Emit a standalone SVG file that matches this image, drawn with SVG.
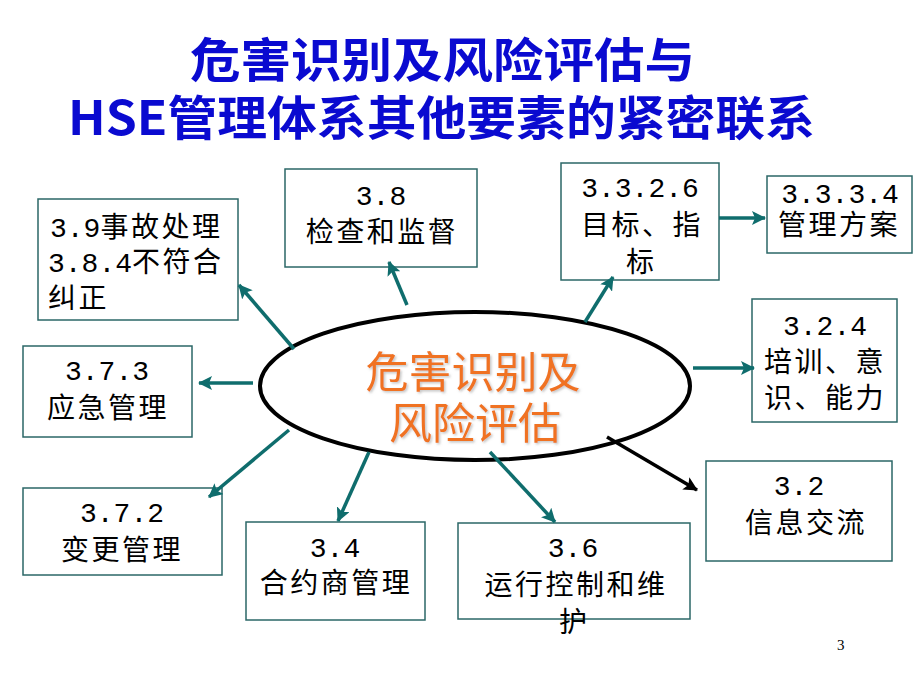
<svg xmlns="http://www.w3.org/2000/svg" width="920" height="690" viewBox="0 0 920 690">
<defs>
<style>
.title{font-family:"Noto Sans CJK SC","Liberation Sans",sans-serif;font-weight:bold;font-size:47px;fill:#0A0AD0;}
.box{fill:#fff;stroke:#2B6767;stroke-width:1.5;}
.t{font-family:"Liberation Mono","Noto Sans CJK SC",monospace;font-size:28px;fill:#000;}
.m{text-anchor:middle;}
.c{letter-spacing:2.5px;}
.ar{stroke:#0F6D6D;stroke-width:3.5;fill:none;marker-end:url(#ah);}
.ark{stroke:#000;stroke-width:3.5;fill:none;marker-end:url(#ahk);}
.ctr{font-family:"Noto Sans CJK SC","Liberation Sans",sans-serif;font-size:43px;fill:#F07222;text-anchor:middle;filter:url(#sh);}
</style>
<marker id="ah" markerUnits="userSpaceOnUse" markerWidth="16" markerHeight="14" refX="13" refY="7" orient="auto">
<path d="M0,0 L14,7 L0,14 L3,7 Z" fill="#0F6D6D"/>
</marker>
<marker id="ahk" markerUnits="userSpaceOnUse" markerWidth="16" markerHeight="14" refX="13" refY="7" orient="auto">
<path d="M0,0 L14,7 L0,14 L3,7 Z" fill="#000"/>
</marker>
<filter id="sh" x="-10%" y="-10%" width="120%" height="130%">
<feDropShadow dx="1.5" dy="1.5" stdDeviation="1" flood-color="#888" flood-opacity="0.5"/>
</filter>
</defs>
<rect width="920" height="690" fill="#fff"/>

<g id="title">
<text class="title"><tspan x="190" y="77" textLength="505" lengthAdjust="spacingAndGlyphs">危害识别及风险评估与</tspan><tspan x="68" y="135" textLength="747" lengthAdjust="spacingAndGlyphs">HSE管理体系其他要素的紧密联系</tspan></text>
</g>

<g id="center">
<ellipse cx="475" cy="386" rx="215" ry="74" fill="none" stroke="#000" stroke-width="4"/>
<text class="ctr"><tspan x="473" y="388">危害识别及</tspan><tspan x="475" y="439">风险评估</tspan></text>
</g>

<g id="n39">
<rect class="box" x="38" y="199" width="200" height="121"/>
<text class="t" x="50" y="237">3.9<tspan class="c">事故处理</tspan></text>
<text class="t" x="48" y="272">3.8.4<tspan class="c">不符合</tspan></text>
<text class="t c" x="48" y="308">纠正</text>
</g>

<g id="n38">
<rect class="box" x="285" y="169" width="192" height="98"/>
<text class="t m" x="381" y="205">3.8</text>
<text class="t m c" x="382" y="242">检查和监督</text>
</g>

<g id="n3326">
<rect class="box" x="561" y="163" width="158" height="117"/>
<text class="t m" x="640" y="197">3.3.2.6</text>
<text class="t m c" x="642" y="235">目标、指</text>
<text class="t m" x="640" y="272">标</text>
</g>

<g id="n3334">
<rect class="box" x="767" y="176" width="145" height="77"/>
<text class="t m" x="840" y="203">3.3.3.4</text>
<text class="t m c" x="839" y="235">管理方案</text>
</g>

<g id="n324">
<rect class="box" x="752" y="299" width="145" height="123"/>
<text class="t m" x="825" y="335">3.2.4</text>
<text class="t m c" x="825" y="372">培训、意</text>
<text class="t m c" x="825" y="408">识、能力</text>
</g>

<g id="n373">
<rect class="box" x="23" y="346" width="169" height="91"/>
<text class="t m" x="107" y="380">3.7.3</text>
<text class="t m c" x="108" y="418">应急管理</text>
</g>

<g id="n32">
<rect class="box" x="706" y="461" width="186" height="100"/>
<text class="t m" x="799" y="495">3.2</text>
<text class="t m c" x="806" y="533">信息交流</text>
</g>

<g id="n372">
<rect class="box" x="23" y="488" width="199" height="87"/>
<text class="t m" x="122" y="522">3.7.2</text>
<text class="t m c" x="122" y="560">变更管理</text>
</g>

<g id="n34">
<rect class="box" x="246" y="522" width="179" height="98"/>
<text class="t m" x="335" y="557">3.4</text>
<text class="t m c" x="336" y="593">合约商管理</text>
</g>

<g id="n36">
<rect class="box" x="458" y="523" width="232" height="96"/>
<text class="t m" x="573" y="557">3.6</text>
<text class="t m c" x="576" y="595">运行控制和维</text>
<text class="t m" x="573" y="632">护</text>
</g>

<g id="connectors">
<line class="ar" x1="294" y1="349" x2="239" y2="285"/>
<line class="ar" x1="407" y1="305" x2="389" y2="262"/>
<line class="ar" x1="253" y1="383" x2="199" y2="383"/>
<line class="ar" x1="585" y1="322" x2="613" y2="277"/>
<line class="ar" x1="719" y1="218" x2="765" y2="218"/>
<line class="ar" x1="693" y1="368" x2="754" y2="368"/>
<line class="ark" x1="607" y1="437" x2="697" y2="490"/>
<line class="ar" x1="289" y1="430" x2="209" y2="497"/>
<line class="ar" x1="369" y1="452" x2="338" y2="521"/>
<line class="ar" x1="490" y1="452" x2="555" y2="522"/>
</g>

<text x="837" y="650" font-family="Liberation Serif, serif" font-size="15" fill="#000">3</text>
</svg>
